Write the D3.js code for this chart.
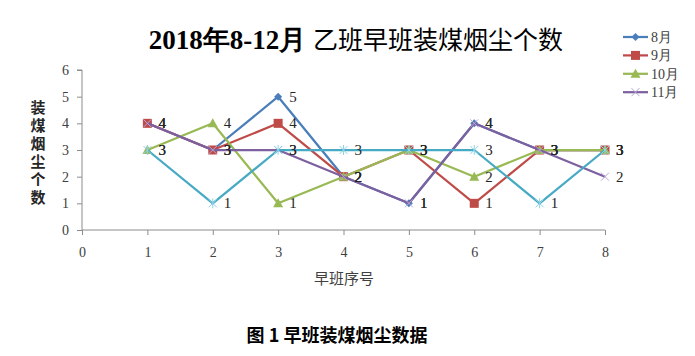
<!DOCTYPE html>
<html>
<head>
<meta charset="utf-8">
<script src="https://cdn.jsdelivr.net/npm/d3@7"></script>
<style>
  body { margin: 0; background: #fff; }
  svg { display: block; }
</style>
</head>
<body>
<svg id="chart" width="695" height="356"></svg>
<script>
const categories = [1, 2, 3, 4, 5, 6, 7, 8];
const xTicks = [0, 1, 2, 3, 4, 5, 6, 7, 8];
const yTicks = [0, 1, 2, 3, 4, 5, 6];
const seriesNames = ["8月", "9月", "10月", "11月", "12月"];
const aug = [4, 3, 5, 2, 1, 4, 3, 3];
const sep = [4, 3, 4, 2, 3, 1, 3, 3];
const oct = [3, 4, 1, 2, 3, 2, 3, 3];
const nov = [4, 3, 3, 2, 1, 4, 3, 2];
const dec = [3, 1, 3, 3, 3, 3, 1, 3];
const seriesValues = [aug, sep, oct, nov, dec];
const colors = ["#4A7EBB", "#BE4B48", "#98B954", "#7D60A0", "#46AAC5"];
const markers = ["diamond", "square", "triangle", "x", "asterisk"];
const legendCount = 4;

const svg = d3.select("#chart");
const x = d3.scaleLinear().domain([0, 8]).range([82, 605]);
const y = d3.scaleLinear().domain([0, 6]).range([230, 70]);
const axisColor = "#8C8C8C";
const tickFont = "'Liberation Serif', serif";

// Title
const title = svg.append("text").attr("x", 356).attr("y", 49).attr("text-anchor", "middle")
  .attr("font-size", 27).attr("fill", "#000");
title.append("tspan").attr("font-family", "'Liberation Serif', serif").attr("font-weight", "bold").text("2018年8-12月 ");
title.append("tspan").attr("font-family", "'Noto Sans CJK SC', sans-serif").attr("font-weight", "normal").attr("font-size", 25).text("乙班早班装煤烟尘个数");

// Axes
const yAxis = d3.axisLeft(y).tickValues(yTicks).tickSize(5).tickPadding(8).tickFormat(d3.format("d"));
const gy = svg.append("g").attr("transform", `translate(${x(0)},0)`).call(yAxis);
const xAxis = d3.axisBottom(x).tickValues(xTicks).tickSize(5).tickPadding(12).tickFormat(d3.format("d"));
const gx = svg.append("g").attr("transform", `translate(0,${y(0)})`).call(xAxis);
[gx, gy].forEach(g => {
  g.select(".domain").attr("stroke", axisColor).attr("stroke-width", 1);
  g.selectAll(".tick line").attr("stroke", axisColor);
  g.selectAll(".tick text").attr("font-family", tickFont).attr("font-size", 14).attr("fill", "#404040");
});
gy.select(".domain").attr("d", `M-5,${y(6)}H0V${y(0)}`);
gx.select(".domain").attr("d", `M${x(0)},0H${x(8)}`);

// Axis titles
svg.append("text").attr("x", 38).attr("y", 100)
  .attr("writing-mode", "tb").style("writing-mode", "vertical-rl").attr("letter-spacing", 3)
  .attr("font-family", "'Noto Sans CJK SC', sans-serif")
  .attr("font-size", 15).attr("font-weight", "bold").attr("fill", "#262626").text("装煤烟尘个数");

svg.append("text").attr("x", 344).attr("y", 284).attr("text-anchor", "middle")
  .attr("font-family", "'Noto Sans CJK SC', sans-serif").attr("font-size", 15).attr("fill", "#404040")
  .text("早班序号");

svg.append("text").attr("x", 337).attr("y", 342).attr("text-anchor", "middle")
  .attr("font-family", "'Noto Sans CJK SC', sans-serif").attr("font-size", 18).attr("font-weight", "bold")
  .attr("fill", "#000").text("图 1 早班装煤烟尘数据");

function drawMarker(g, type, color, cx, cy) {
  if (type === "diamond") {
    g.append("path").attr("d", `M${cx},${cy-4}L${cx+4},${cy}L${cx},${cy+4}L${cx-4},${cy}Z`).attr("fill", color);
  } else if (type === "square") {
    g.append("rect").attr("x", cx - 4.5).attr("y", cy - 4.5).attr("width", 9).attr("height", 9).attr("fill", color);
  } else if (type === "triangle") {
    g.append("path").attr("d", `M${cx},${cy-5}L${cx+5},${cy+4}L${cx-5},${cy+4}Z`).attr("fill", color);
  } else if (type === "x") {
    g.append("path").attr("d", `M${cx-4},${cy-4}L${cx+4},${cy+4}M${cx-4},${cy+4}L${cx+4},${cy-4}`)
      .attr("stroke", "#B9A6D3").attr("stroke-width", 1);
  } else if (type === "asterisk") {
    g.append("path").attr("d", `M${cx-4},${cy-4}L${cx+4},${cy+4}M${cx-4},${cy+4}L${cx+4},${cy-4}M${cx},${cy-5}L${cx},${cy+5}`)
      .attr("stroke", "#8FD3E6").attr("stroke-width", 1);
  }
}

const line = d3.line().x((d, i) => x(categories[i])).y(d => y(d));

seriesValues.forEach((vals, si) => {
  const g = svg.append("g");
  g.append("path").datum(vals).attr("d", line).attr("fill", "none")
    .attr("stroke", colors[si]).attr("stroke-width", 2.25).attr("stroke-linejoin", "round");
  vals.forEach((v, i) => drawMarker(g, markers[si], colors[si], x(categories[i]), y(v)));
});

// Data labels
seriesValues.forEach((vals, si) => {
  svg.append("g").selectAll("text").data(vals).join("text")
    .attr("x", (d, i) => x(categories[i]) + 11).attr("y", d => y(d) + 5)
    .attr("font-family", tickFont).attr("font-size", 15).attr("fill", "#262626")
    .text(d => d);
});

// Legend
const lg = svg.append("g");
for (let i = 0; i < legendCount; i++) {
  const ly = 37 + i * 18.4;
  lg.append("line").attr("x1", 623).attr("x2", 648).attr("y1", ly).attr("y2", ly)
    .attr("stroke", colors[i]).attr("stroke-width", 2.25);
  drawMarker(lg, markers[i], colors[i], 635.5, ly);
  lg.append("text").attr("x", 651).attr("y", ly + 5).attr("font-family", "'Liberation Serif', serif")
    .attr("font-size", 14).attr("fill", "#404040").text(seriesNames[i]);
}
</script>
</body>
</html>
